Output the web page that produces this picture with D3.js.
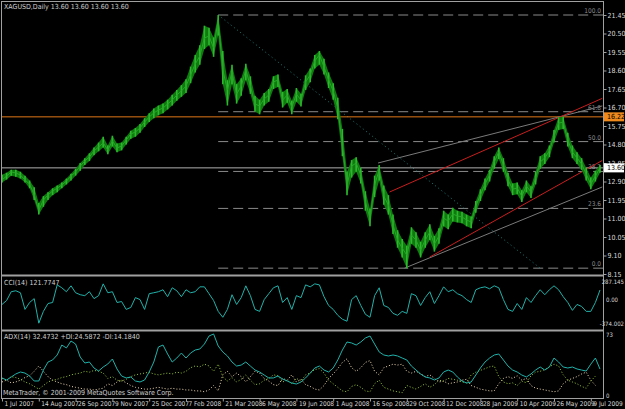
<!DOCTYPE html>
<html>
<head>
<meta charset="utf-8">
<script src="https://cdn.jsdelivr.net/npm/d3@7"></script>
<style>
  body { margin: 0; background: #000; }
  svg { display: block; }
  text { font-family: "Liberation Sans Narrow", "DejaVu Sans Condensed", "Liberation Sans", sans-serif; font-size: 7px; }
</style>
</head>
<body>
<div id="chart"></div>
<script>
/* XAGUSD daily with CCI(14) and ADX(14) panes, MetaTrader look */

// one sample every 4 daily bars, starting 1 Jul 2007
const step = 4;
const highs = [13.25,13.35,13.50,13.50,13.40,13.20,12.95,12.60,11.80,12.15,12.35,12.55,12.70,12.85,13.05,13.30,13.55,13.85,14.10,14.35,
  14.65,14.90,15.20,14.75,15.25,14.85,14.90,15.20,15.50,15.65,15.85,16.15,16.40,16.65,16.80,16.90,17.10,17.35,17.60,17.85,
  18.15,18.80,19.40,19.90,20.90,20.80,20.30,21.45,19.60,18.10,18.90,17.90,18.20,18.95,18.30,17.30,17.10,17.45,17.65,18.30,
  18.40,17.50,17.65,17.05,17.70,17.40,18.35,18.70,19.40,19.60,19.20,18.50,17.95,17.20,15.60,13.40,14.00,14.15,13.60,12.40,
  11.50,13.20,13.75,12.70,12.20,11.20,10.40,9.95,9.60,10.55,10.30,9.80,10.30,10.70,10.10,10.50,11.40,11.20,11.55,11.40,
  11.35,11.20,11.10,11.90,12.50,13.05,13.50,14.20,14.65,14.10,13.35,12.80,12.85,12.45,12.95,12.65,13.40,14.20,14.35,14.75,
  15.55,16.20,16.22,15.40,14.75,14.40,14.10,13.60,13.10,13.45,13.75];
const lows = [12.85,13.00,13.20,13.15,13.05,12.85,12.55,11.95,11.20,11.60,11.95,12.20,12.35,12.55,12.75,12.95,13.20,13.45,13.75,13.95,
  14.25,14.45,14.65,14.30,14.70,14.40,14.50,14.80,15.10,15.20,15.40,15.70,15.95,16.15,16.30,16.40,16.60,16.80,17.05,17.25,
  17.45,17.95,18.50,18.90,19.70,19.90,19.30,20.40,17.90,16.80,17.90,16.90,17.30,18.10,17.40,16.50,16.35,16.80,17.00,17.65,
  17.75,16.70,16.95,16.35,17.00,16.75,17.60,18.00,18.70,18.90,18.40,17.70,17.10,16.10,14.20,12.20,13.10,13.40,12.80,11.40,
  10.60,12.10,12.95,11.70,11.20,10.20,9.50,9.00,8.45,9.70,9.50,9.00,9.50,9.90,9.30,9.70,10.60,10.45,10.85,10.80,
  10.75,10.60,10.50,11.30,11.90,12.45,12.90,13.55,14.05,13.40,12.65,12.20,12.25,11.85,12.35,12.05,12.75,13.55,13.80,14.15,
  14.90,15.55,15.60,14.70,14.10,13.80,13.50,12.95,12.50,12.90,13.35];
const closes = [12.98,13.18,13.39,13.34,13.23,12.98,12.77,12.21,11.43,11.95,12.21,12.41,12.56,12.72,12.92,13.18,13.39,13.69,13.95,14.16,
  14.47,14.67,14.88,14.52,14.98,14.62,14.72,15.03,15.34,15.44,15.65,15.95,16.21,16.42,16.57,16.67,16.88,17.08,17.34,17.55,
  17.80,18.37,18.93,19.34,20.27,20.37,19.76,21.19,18.63,17.60,18.52,17.39,17.80,18.63,17.80,16.88,16.78,17.14,17.34,18.01,
  18.11,17.08,17.34,16.72,17.39,17.08,18.01,18.37,19.09,19.40,18.78,18.11,17.55,16.67,14.77,12.72,13.69,13.85,13.23,11.85,
  11.02,12.72,13.49,12.15,11.69,10.66,9.89,9.48,9.12,10.15,9.89,9.38,9.89,10.30,9.69,10.10,11.02,10.87,11.23,11.13,
  11.08,10.92,10.82,11.64,12.21,12.77,13.23,13.90,14.41,13.75,12.98,12.51,12.56,12.15,12.67,12.36,13.08,13.90,14.11,14.47,
  15.24,15.90,15.95,15.03,14.41,14.11,13.80,13.28,12.77,13.18,13.60];

const cci = [-62,-12,100,112,87,-125,-37,12,-300,-150,-50,-37,187,150,100,175,87,62,50,100,
  12,50,200,87,100,-37,-25,-125,-100,25,0,-125,75,87,100,125,37,150,112,37,
  125,87,100,162,162,75,-12,-150,-225,-125,62,-62,25,175,50,-125,-150,0,75,150,
  175,-37,25,-125,50,25,187,162,200,187,37,-75,-125,-200,-250,-275,0,50,-75,-187,
  -225,50,150,-75,-100,-175,-200,-150,-175,75,50,-75,25,100,-50,50,162,100,125,75,
  50,0,-37,125,150,162,137,175,150,0,-125,-150,-50,-125,25,-37,50,125,62,125,
  175,125,37,-37,-137,-62,-87,-150,-150,-37,122];

const adx = [22.5,20.2,23.6,27,29.2,28,24.7,19.1,19.1,31.4,40.4,42.7,48.3,59.5,56.2,64,60.6,46,39.3,40.4,
  33.7,30.3,34.8,38.2,43.8,32.6,24.7,22.5,23.6,19.1,18,20.2,29.2,40.4,57.3,59.5,49.4,40.4,44.9,50.5,
  44.9,50.5,53.9,55,60.6,69.6,71.9,58.4,51.7,47.2,40.4,35.9,37,40.4,35.9,31.4,29.2,25.8,22.5,22.5,
  24.7,21.3,19.1,16.8,15.7,18,22.5,28,33.7,35.9,31.4,29.2,33.7,42.7,53.9,62.9,61.8,59.5,62.9,67.4,
  69.6,60.6,51.7,48.3,47.2,48.3,47.2,44.9,42.7,35.9,31.4,27,23.6,22.5,20.2,22.5,29.2,31.4,29.2,23.6,
  19.1,16.8,18,25.8,33.7,40.4,44.9,48.3,49.4,42.7,35.9,31.4,29.2,25.8,23.6,27,31.4,34.8,31.4,34.8,
  44.9,40.4,34.8,33.7,34.8,32.6,31.4,30.3,38,44.9,32.47];
const plusDI = [22,20,24,23,21,18,16,13,10,14,18,20,21,23,24,26,27,28,30,29,
  31,30,28,22,24,20,19,21,24,26,27,28,29,27,26,27,28,27,29,28,
  30,34,36,35,38,36,30,38,24,19,23,18,21,26,20,15,16,20,22,26,
  25,18,20,16,22,19,26,28,32,33,28,20,16,12,8,7,13,15,12,8,
  7,16,20,12,10,8,7,6,14,12,10,13,16,12,15,20,19,22,21,20,
  18,17,26,29,31,33,35,36,24,18,16,17,14,19,17,25,29,30,32,35,
  38,36,26,20,18,16,13,11,19,24.59];
const minusDI = [18,20,17,18,20,23,25,30,36,30,24,20,18,16,15,13,12,11,10,10,
  9,10,11,16,14,18,20,17,14,12,11,10,10,11,12,11,10,11,10,10,
  9,9,8,8,7,9,14,8,26,30,24,28,24,18,24,30,28,22,19,15,
  14,22,20,26,18,21,15,13,10,9,14,22,27,33,40,44,34,30,34,40,
  42,30,26,34,36,38,37,38,30,28,30,27,24,26,22,18,19,16,17,18,
  20,21,14,12,10,9,8,8,16,22,24,22,25,20,22,14,11,10,9,8,
  7,8,16,20,22,24,27,29,20,14.18];

const dateBars = [0,32,64,96,128,160,192,224,256,288,320,352,384,416,448,480,512];
const dateLabels = ["1 Jul 2007","14 Aug 2007","26 Sep 2007","9 Nov 2007","25 Dec 2007","7 Feb 2008",
  "21 Mar 2008","6 May 2008","19 Jun 2008","1 Aug 2008","16 Sep 2008","29 Oct 2008","12 Dec 2008",
  "28 Jan 2009","10 Apr 2009","26 May 2009","9 Jul 2009"];
const priceTicks = [21.45,20.50,19.55,18.60,17.65,16.70,15.75,14.80,13.85,12.90,11.95,11.00,10.05,9.10,8.15];

// fibonacci retracement, 21.45 high -> 8.45 low
const fibLevels = [100.0, 61.8, 50.0, 38.2, 23.6, 0.0];
const fibHigh = 21.45, fibLow = 8.45, fibStartBar = 188, fibEndBar = 468;
// trend lines as [bar, price] pairs
const redUpper = [[337, 12.36], [522, 17.17]];
const redLower = [[372, 9.02], [522, 13.98]];
const greyUpper = [[327, 13.85], [522, 16.78]];
const greyLower = [[350, 8.45], [522, 12.62]];
const bidPrice = 13.60, markPrice = 16.22;

const width = 625, height = 409;

let svg = d3.select("#chart")
    .append("svg")
    .attr("width", width)
    .attr("height", height);

svg.append("rect").attr("width", width).attr("height", height).attr("fill", "#000");

let x = d3.scaleLinear().domain([0, 520]).range([2, 600]);
let yP = d3.scaleLinear().domain([8.15, 21.45]).range([274, 15]);
let yC = d3.scaleLinear().domain([-374.002, 287.145]).range([329, 277]);
let yA = d3.scaleLinear().domain([0, 73]).range([398, 333]);

const xAt = (d, i) => x(i * step);
const grid = "#a0a0a0";
const label = "#d8d8d8";

svg.append("clipPath").attr("id", "main")
  .append("rect").attr("x", 2).attr("y", 2).attr("width", 601).attr("height", 272);
svg.append("clipPath").attr("id", "sub")
  .append("rect").attr("x", 2).attr("y", 277).attr("width", 601).attr("height", 121);

let main = svg.append("g").attr("clip-path", "url(#main)");

// fib levels (dashed)
main.selectAll(".fib")
  .data(fibLevels)
  .join("line")
    .attr("x1", x(fibStartBar))
    .attr("x2", 603)
    .attr("y1", d => yP(fibLow + d / 100 * (fibHigh - fibLow)))
    .attr("y2", d => yP(fibLow + d / 100 * (fibHigh - fibLow)))
    .attr("stroke", "#8a8a8a")
    .attr("stroke-dasharray", "10,5");

main.append("line") // fib trend (dotted)
    .attr("x1", x(fibStartBar)).attr("y1", yP(fibHigh))
    .attr("x2", x(fibEndBar)).attr("y2", yP(fibLow))
    .attr("stroke", "#1c7c74")
    .attr("stroke-dasharray", "1,3");

main.selectAll(".fibLabel")
  .data(fibLevels)
  .join("text")
    .attr("x", 601)
    .attr("y", d => yP(fibLow + d / 100 * (fibHigh - fibLow)) - 2)
    .attr("text-anchor", "end")
    .attr("fill", "#8a8a8a")
    .style("font-size", "6.5px")
    .text(d => d.toFixed(1));

// full width horizontal lines
main.append("line")
    .attr("x1", 2).attr("x2", 603)
    .attr("y1", yP(markPrice)).attr("y2", yP(markPrice))
    .attr("stroke", "#e07818");
main.append("line")
    .attr("x1", 2).attr("x2", 603)
    .attr("y1", yP(bidPrice)).attr("y2", yP(bidPrice))
    .attr("stroke", "#b0b0b0");

// trend lines
const trend = (pts, color) => main.append("line")
    .attr("x1", x(pts[0][0])).attr("y1", yP(pts[0][1]))
    .attr("x2", x(pts[1][0])).attr("y2", yP(pts[1][1]))
    .attr("stroke", color);
trend(greyUpper, "#7a7a7a");
trend(greyLower, "#7a7a7a");
trend(redUpper, "#c81e1e");
trend(redLower, "#c81e1e");

// price: high-low band plus bars plus close
main.append("path")
    .datum(closes)
    .attr("fill", "#107a10")
    .attr("d", d3.area()
        .x(xAt)
        .y0((d, i) => yP(lows[i]))
        .y1((d, i) => yP(highs[i])));

main.selectAll(".bar")
  .data(closes)
  .join("line")
    .attr("x1", xAt).attr("x2", xAt)
    .attr("y1", (d, i) => yP(highs[i]))
    .attr("y2", (d, i) => yP(lows[i]))
    .attr("stroke", "#2cb82c")
    .attr("stroke-width", 1.6);

main.append("path")
    .datum(closes)
    .attr("fill", "none")
    .attr("stroke", "#27a827")
    .attr("stroke-width", 1)
    .attr("d", d3.line().x(xAt).y(d => yP(d)));

// indicator panes
let sub = svg.append("g").attr("clip-path", "url(#sub)");

sub.append("path")
    .datum(cci)
    .attr("fill", "none")
    .attr("stroke", "#20b2aa")
    .attr("d", d3.line().x(xAt).y(d => yC(d)));

sub.append("path")
    .datum(minusDI)
    .attr("fill", "none")
    .attr("stroke", "#f5deb3")
    .attr("stroke-dasharray", "1,2")
    .attr("d", d3.line().x(xAt).y(d => yA(d)));

sub.append("path")
    .datum(plusDI)
    .attr("fill", "none")
    .attr("stroke", "#9acd32")
    .attr("stroke-dasharray", "1,2")
    .attr("d", d3.line().x(xAt).y(d => yA(d)));

sub.append("path")
    .datum(adx)
    .attr("fill", "none")
    .attr("stroke", "#20b2aa")
    .attr("d", d3.line().x(xAt).y(d => yA(d)));

// frame
svg.append("line").attr("x1", 1.5).attr("x2", 1.5).attr("y1", 1).attr("y2", 399).attr("stroke", grid);
svg.append("line").attr("x1", 1).attr("x2", 604).attr("y1", 1.5).attr("y2", 1.5).attr("stroke", grid);
svg.append("rect").attr("x", 1).attr("y", 274.5).attr("width", 603).attr("height", 2).attr("fill", grid);
svg.append("rect").attr("x", 1).attr("y", 329.5).attr("width", 603).attr("height", 2).attr("fill", grid);

// price axis
let pAxis = svg.append("g")
    .attr("transform", "translate(603.5,0)")
    .call(d3.axisRight(yP).tickValues(priceTicks).tickSize(3).tickPadding(1)
        .tickFormat(d3.format(".2f")));
pAxis.select(".domain").attr("stroke", grid).attr("d", "M0,1V399");
pAxis.selectAll(".tick line").attr("stroke", grid);
pAxis.selectAll(".tick text").attr("fill", label).style("font-size", "7px");

// sub pane scale labels, right aligned so they stay inside
const sideLabels = [
  [yC(287.145) + 5, "287.145"], [yC(0), "0.00"], [yC(-374.002) - 5, "-374.002"],
  [yA(73) + 2, "73"], [yA(0) - 2, "0"]];
svg.selectAll(".side")
  .data(sideLabels)
  .join("text")
    .attr("x", d => d[1].length > 4 ? 624 : 606)
    .attr("text-anchor", d => d[1].length > 4 ? "end" : "start")
    .attr("y", d => d[0])
    .attr("dy", "0.32em")
    .attr("fill", label)
    .style("font-size", "6px")
    .text(d => d[1]);

// highlighted price tags
const tag = (price, bg) => {
  let g = svg.append("g").attr("transform", `translate(604,${yP(price)})`);
  g.append("rect").attr("x", 0).attr("y", -4.5).attr("width", 20).attr("height", 9).attr("fill", bg);
  g.append("text").attr("x", 3).attr("dy", "0.32em").attr("fill", "#000").text(price.toFixed(2));
};
tag(markPrice, "#f08a1c");
tag(bidPrice, "#ffffff");

// time axis
let tAxis = svg.append("g")
    .attr("transform", "translate(0,398.5)")
    .call(d3.axisBottom(x).tickValues(dateBars).tickSize(3).tickPadding(0)
        .tickFormat((d, i) => dateLabels[i]));
tAxis.select(".domain").attr("stroke", grid).attr("d", "M1,0H604");
tAxis.selectAll(".tick line").attr("stroke", grid);
tAxis.selectAll(".tick text").attr("fill", label).attr("text-anchor", "start").attr("x", 2)
    .style("font-size", "6.5px");

// pane captions
const captions = [
  [4, 9, "XAGUSD,Daily  13.60 13.60 13.60 13.60"],
  [4, 285, "CCI(14) 121.7747"],
  [4, 339, "ADX(14) 32.4732 +DI:24.5872 -DI:14.1840"],
  [3, 395, "MetaTrader, © 2001-2009 MetaQuotes Software Corp."]];
svg.selectAll(".cap")
  .data(captions)
  .join("text")
    .attr("x", d => d[0])
    .attr("y", d => d[1])
    .attr("fill", "#d0d0d0")
    .text(d => d[2]);
</script>
</body>
</html>
